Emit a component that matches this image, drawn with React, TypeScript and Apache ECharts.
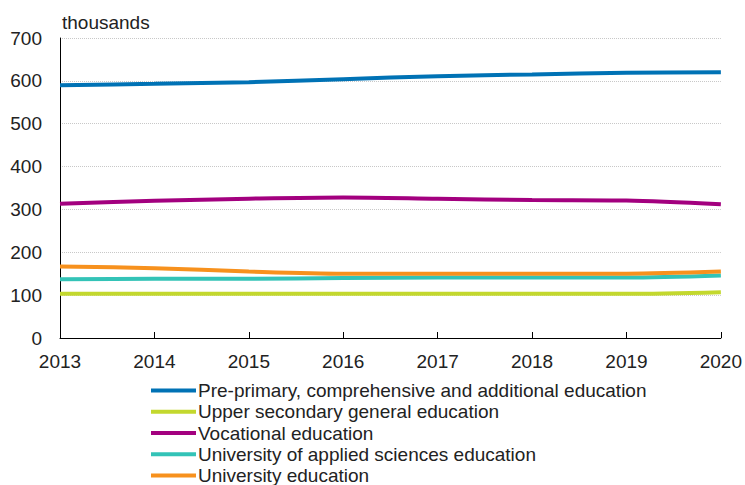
import React, { useEffect, useRef } from "react";
import * as echarts from "echarts";

const years = ["2013", "2014", "2015", "2016", "2017", "2018", "2019", "2020"];
const seriesNames = [
  "Pre-primary, comprehensive and additional education",
  "Upper secondary general education",
  "Vocational education",
  "University of applied sciences education",
  "University education",
];
const prePrimary = [590, 593, 597, 604, 611, 615, 619, 620];
const upperSecondary = [103, 103, 103, 103, 103, 103, 103, 107];
const vocational = [313, 320, 325, 328, 325, 322, 321, 312];
const appliedSciences = [137, 138, 138, 140, 141, 141, 141, 146];
const university = [167, 163, 155, 150, 150, 150, 150, 155];
const colors = ["#0072b5", "#c3d82e", "#a3007f", "#33c3b7", "#f7911d"];
const yTicks = [0, 100, 200, 300, 400, 500, 600, 700];

export default function App() {
  const ref = useRef<HTMLDivElement>(null);
  useEffect(() => {
    if (!ref.current) return;
    const chart = echarts.init(ref.current, null, { renderer: "svg" });
    const dataSets = [prePrimary, upperSecondary, vocational, appliedSciences, university];
    const font = "Liberation Sans, Arial, sans-serif";
    chart.setOption({
      animation: false,
      textStyle: { fontFamily: font },
      grid: { left: 60, right: 20, top: 38, bottom: 147, containLabel: false },
      graphic: [
        {
          type: "text",
          left: 62,
          top: 13,
          style: { text: "thousands", fontSize: 19, fill: "#222", fontFamily: font },
        },
      ],
      legend: {
        orient: "vertical",
        left: 146,
        top: 376,
        height: 200,
        itemWidth: 45,
        itemHeight: 4,
        itemGap: 2.25,
        icon: "rect",
        textStyle: { fontSize: 19, color: "#222", fontFamily: font, lineHeight: 19, padding: [0, 0, 0, -3] },
        data: seriesNames,
      },
      xAxis: {
        type: "category",
        data: years,
        boundaryGap: false,
        axisLine: { lineStyle: { color: "#000", width: 1 } },
        axisTick: { show: true, inside: true, length: 6, lineStyle: { color: "#000" } },
        axisLabel: { color: "#222", fontSize: 19, margin: 14 },
        splitLine: { show: false },
      },
      yAxis: {
        type: "value",
        min: yTicks[0],
        max: yTicks[yTicks.length - 1],
        interval: 100,
        axisLine: { show: true, lineStyle: { color: "#000", width: 1 } },
        axisTick: { show: false },
        axisLabel: { color: "#222", fontSize: 19, margin: 18 },
        splitLine: { show: true, lineStyle: { color: "#c8c8c8", type: "dotted", width: 1 } },
      },
      series: seriesNames.map((name, i) => ({
        name,
        type: "line",
        data: dataSets[i],
        smooth: 0.3,
        symbol: "none",
        lineStyle: { color: colors[i], width: 4 },
        itemStyle: { color: colors[i] },
      })),
    });
    return () => chart.dispose();
  }, []);
  return <div ref={ref} style={{ width: 745, height: 485, position: "absolute", left: 0, top: 0 }} />;
}
